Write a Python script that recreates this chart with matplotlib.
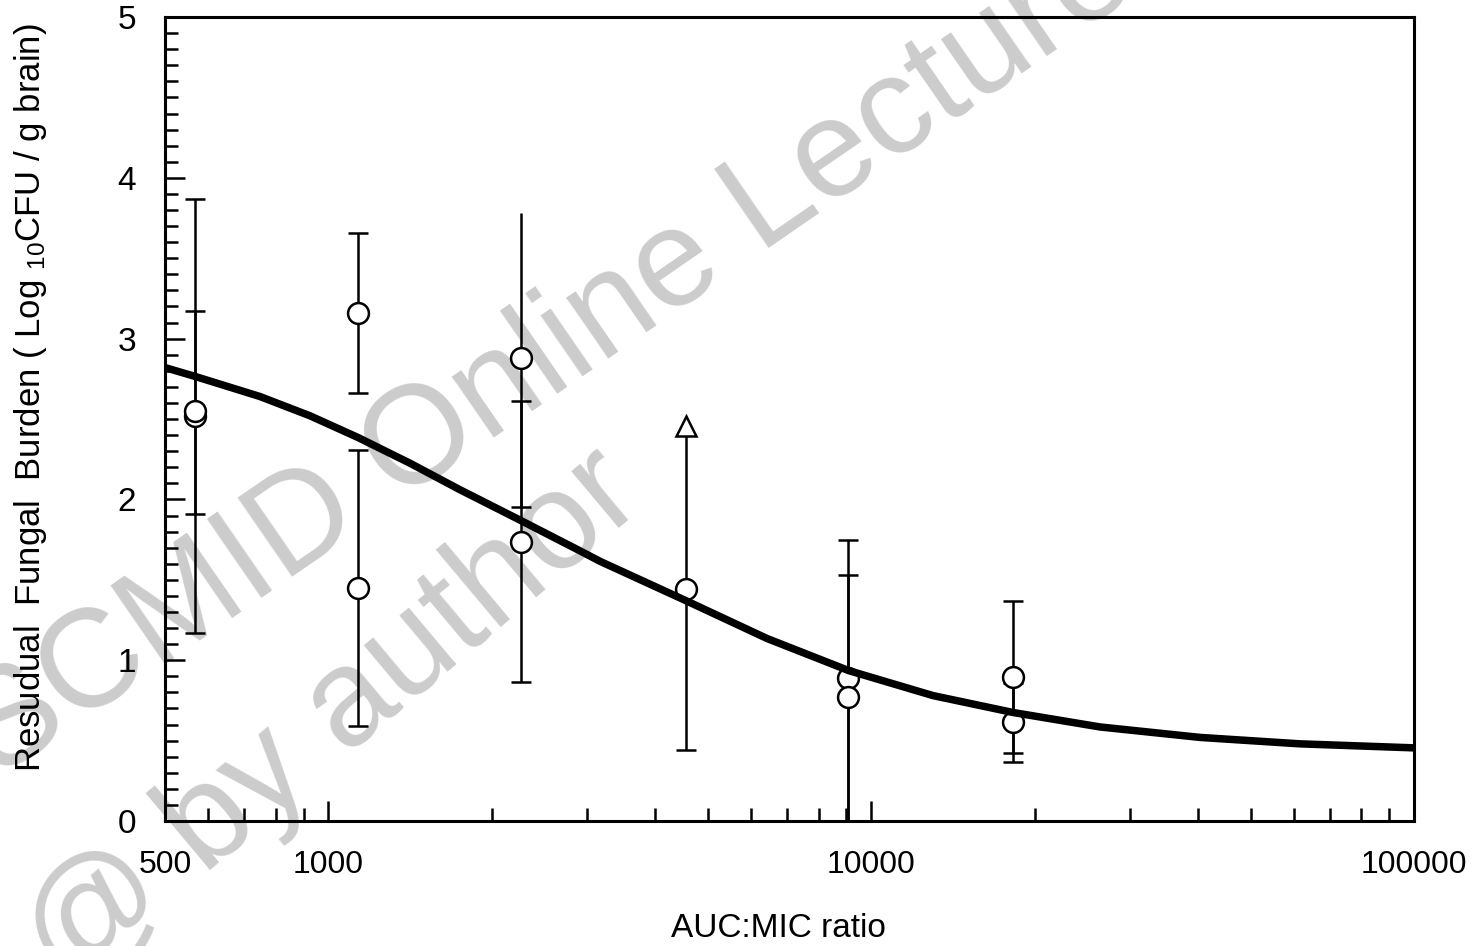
import matplotlib
matplotlib.use("Agg")
import matplotlib.pyplot as plt
from matplotlib.ticker import LogLocator, MultipleLocator, NullFormatter

plt.rcParams['font.family'] = ['Liberation Sans', 'DejaVu Sans']
plt.rcParams['mathtext.fontset'] = 'custom'
plt.rcParams['mathtext.rm'] = 'Liberation Sans'
plt.rcParams['mathtext.it'] = 'Liberation Sans:italic'

# ===============================
# data
# ===============================
auc_mic = [568, 568, 1134, 1134, 2264, 2264, 4560, 9060, 9060, 18250, 18250]
burden = [2.52, 2.55, 3.16, 1.45, 2.88, 1.735, 1.44, 0.89, 0.77, 0.895, 0.615]
err_lo = [1.35, 0.64, 0.50, 0.86, 0.93, 0.87, 1.00, 0.89, 0.77, 0.475, 0.245]
err_hi = [1.35, 0.62, 0.50, 0.86, 0.90, 0.875, 0.96, 0.86, 0.76, 0.475, 0.245]
cap_hi = [True, True, True, True, False, True, True, True, True, True, True]

tri_x = [4560]
tri_y = [2.455]

fit_x = [500, 568, 748, 925, 1134, 1414, 1748, 2274, 2908, 3166, 4560,
         6430, 9100, 13000, 18250, 26400, 40350, 61660, 100000]
fit_y = [2.82, 2.765, 2.64, 2.52, 2.385, 2.225, 2.06, 1.865, 1.68, 1.615,
         1.37, 1.135, 0.935, 0.78, 0.675, 0.585, 0.52, 0.48, 0.455]

xtick_vals = [500, 1000, 10000, 100000]
xtick_labels = ["500", "1000", "10000", "100000"]

# ===============================
# figure
# ===============================
fig = plt.figure(figsize=(14.72, 9.46), dpi=100)
ax = fig.add_axes([0.1121, 0.1321, 0.8485, 0.8499])
ax.patch.set_alpha(0)

# watermark behind everything
wm = dict(fontsize=100, color="#cccccc", rotation_mode="anchor",
          ha="left", va="baseline", zorder=-5)
fig.text(-0.002, 0.1755, "SCMID Online Lecture", rotation=34.6, **wm)
fig.text(0.045, -0.048, "@ by author", rotation=40, **wm)

# error bars
ax.errorbar(auc_mic, burden, yerr=[err_lo, err_hi], fmt="none", ecolor="black",
            elinewidth=1.8, capsize=0, zorder=2)
cap_x = auc_mic + [x for x, c in zip(auc_mic, cap_hi) if c]
cap_y = [y - e for y, e in zip(burden, err_lo)] + \
        [y + e for y, e, c in zip(burden, err_hi, cap_hi) if c]
ax.plot(cap_x, cap_y, ls="none", marker="_", ms=15, mew=1.8, color="black",
        zorder=2)

# symbols
ax.plot(auc_mic, burden, ls="none", marker="o", ms=15, mfc="white",
        mec="black", mew=1.8, zorder=3)
ax.plot(tri_x, tri_y, ls="none", marker="^", ms=14.4, mfc="white",
        mec="black", mew=1.8, zorder=3)

# fitted curve
ax.plot(fit_x, fit_y, color="black", lw=5.4, zorder=4)

# axes
ax.set_xscale("log")
ax.set_xlim(500, 100000)
ax.set_ylim(0, 5)
ax.set_xticks(xtick_vals, xtick_labels, fontsize=23)
ax.xaxis.set_minor_locator(LogLocator(base=10, subs=range(2, 10)))
ax.xaxis.set_minor_formatter(NullFormatter())
ax.set_yticks([0, 1, 2, 3, 4, 5])
ax.yaxis.set_minor_locator(MultipleLocator(0.1))

ax.tick_params(axis="both", which="both", direction="in", top=False,
               right=False, width=1.8, colors="black")
ax.tick_params(axis="both", which="major", length=14.4)
ax.tick_params(axis="both", which="minor", length=9.4)
ax.tick_params(axis="y", labelsize=24, pad=21)
ax.tick_params(axis="x", pad=21)

for s in ax.spines.values():
    s.set_linewidth(2.2)

ax.set_ylabel("Resudual  Fungal  Burden ( Log $_{10}$CFU / g brain)",
              fontsize=25)
ax.yaxis.set_label_coords(-0.108, 0.526)
ax.yaxis.label.set_va("center")

ax.set_xlabel("AUC:MIC ratio", fontsize=24)
ax.xaxis.set_label_coords(0.491, -0.115)
ax.xaxis.label.set_va("top")

fig.savefig("out.png", dpi=100)
